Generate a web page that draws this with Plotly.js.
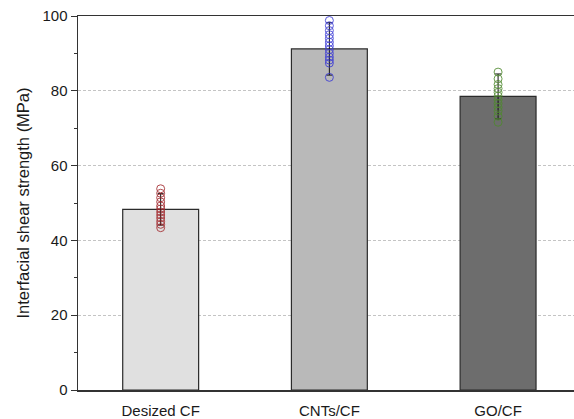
<!DOCTYPE html>
<html>
<head>
<meta charset="utf-8">
<script src="https://cdn.plot.ly/plotly-3.0.1.min.js"></script>
<style>
  html, body { margin: 0; padding: 0; background: #fff; }
  #chart { width: 574px; height: 419px; }
</style>
</head>
<body>
<div id="chart"></div>
<script>
// Interfacial shear strength of the three fibre treatments
const categories = ["Desized CF", "CNTs/CF", "GO/CF"];
const meanIFSS = [48.3, 91.2, 78.5];
const sdIFSS = [4.2, 7.0, 6.0];

// Individual specimen measurements (MPa)
const desizedPoints = [53.8, 52.6, 51.4, 50.3, 49.2, 48.4, 47.6, 46.8, 46.0, 45.1, 44.3, 43.4];
const cntsPoints = [98.8, 97.4, 96.1, 95.0, 94.0, 93.0, 92.0, 91.0, 90.0, 89.0, 88.2, 87.4, 83.6];
const goPoints = [85.0, 83.2, 81.7, 80.6, 79.6, 78.6, 77.6, 76.6, 75.6, 74.6, 73.2, 71.6];

const pointSets = [desizedPoints, cntsPoints, goPoints];
const pointColors = ["#a3292e", "#3b3bd6", "#4f8a2e"];
const barColors = ["#e0e0e0", "#b9b9b9", "#6d6d6d"];

const traces = [{
  type: "bar",
  x: categories,
  y: meanIFSS,
  width: 0.45,
  marker: { color: barColors, line: { color: "#2b2b2b", width: 1.2 } },
  error_y: { type: "data", array: sdIFSS, visible: true, color: "#111", thickness: 1, width: 3 },
  hoverinfo: "y"
}];

pointSets.forEach((pts, i) => {
  traces.push({
    type: "scatter",
    mode: "markers",
    x: pts.map(() => categories[i]),
    y: pts,
    marker: { symbol: "circle-open", size: 8, color: pointColors[i], line: { width: 1, color: pointColors[i] } },
    opacity: 0.85,
    showlegend: false
  });
});

const layout = {
  width: 574,
  height: 419,
  margin: { l: 78, r: 0, t: 16, b: 29 },
  paper_bgcolor: "#fff",
  plot_bgcolor: "#fff",
  showlegend: false,
  font: { family: "Liberation Sans, Arial, sans-serif", color: "#1a1a1a" },
  xaxis: {
    type: "category",
    range: [-0.49, 2.45],
    showgrid: false,
    showline: true,
    linecolor: "#333",
    linewidth: 1.5,
    mirror: true,
    ticks: "",
    ticklabelstandoff: 6,
    tickfont: { size: 15, color: "#1a1a1a" },
    zeroline: false
  },
  yaxis: {
    range: [0, 100],
    tickvals: [0, 20, 40, 60, 80, 100],
    ticks: "outside",
    ticklen: 6,
    tickwidth: 1,
    tickcolor: "#333",
    minor: { dtick: 10, ticks: "outside", ticklen: 3, tickcolor: "#333", showgrid: false },
    showline: true,
    linecolor: "#333",
    linewidth: 1.5,
    showgrid: true,
    gridcolor: "#c4c4c4",
    griddash: "3px,2px",
    gridwidth: 1,
    zeroline: false,
    tickfont: { size: 15, color: "#1a1a1a" },
    title: { text: "Interfacial shear strength (MPa)", font: { size: 16.5, color: "#1a1a1a" }, standoff: 8 }
  },
  bargap: 0.5
};

Plotly.newPlot("chart", traces, layout, { displayModeBar: false, staticPlot: true });
</script>
</body>
</html>
